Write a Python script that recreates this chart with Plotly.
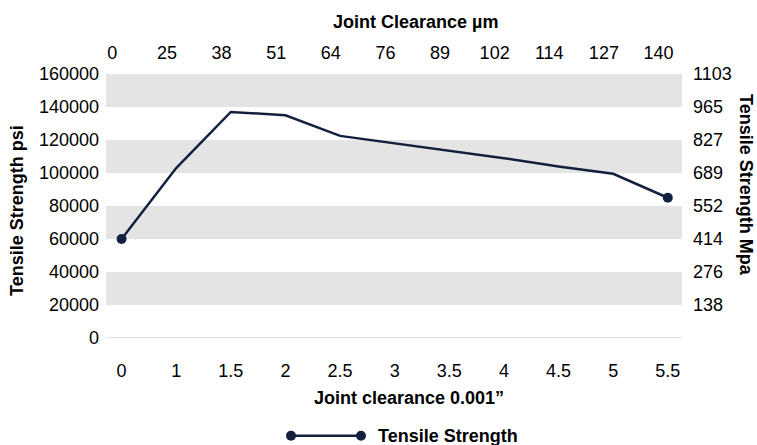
import plotly.graph_objects as go

# ---- data ----
clearance_in = ["0", "1", "1.5", "2", "2.5", "3", "3.5", "4", "4.5", "5", "5.5"]
clearance_um = ["0", "25", "38", "51", "64", "76", "89", "102", "114", "127", "140"]
tensile_psi = [60000, 103000, 137000, 135000, 122500, 118000, 113500, 109000, 104000, 99500, 85000]
psi_ticks = [0, 20000, 40000, 60000, 80000, 100000, 120000, 140000, 160000]
mpa_ticks = [20000, 40000, 60000, 80000, 100000, 120000, 140000, 160000]
mpa_labels = ["138", "276", "414", "552", "689", "827", "965", "1103"]
series_name = "Tensile Strength"

FONT = "Liberation Sans, Arial, sans-serif"
NAVY = "#13213f"
BAND = "#e4e4e4"
W, H = 757, 445
L, R, T, B = 106, 75, 74, 107
pw, ph = W - L - R, H - T - B

def px_x(px):
    return (px - L) / pw

def px_y(py):
    return (H - B - py) / ph

idx = list(range(len(clearance_in)))
end_x = [idx[0], idx[-1]]
end_y = [tensile_psi[0], tensile_psi[-1]]

fig = go.Figure()
fig.add_trace(go.Scatter(
    x=idx, y=tensile_psi, mode="lines", name=series_name,
    line=dict(color=NAVY, width=2.5), showlegend=False,
))
fig.add_trace(go.Scatter(
    x=end_x, y=end_y, mode="markers", name=series_name,
    marker=dict(color=NAVY, size=10, opacity=1, line=dict(width=0)),
    showlegend=False,
))
# invisible companion trace so secondary axes are active
fig.add_trace(go.Scatter(
    x=idx, y=tensile_psi, xaxis="x2", yaxis="y2", mode="lines",
    line=dict(width=0, color="rgba(0,0,0,0)"), showlegend=False, hoverinfo="skip",
))

xr = [-0.285, 10.26]
off = -0.17

shapes = []
for lo in range(0, len(psi_ticks) - 1):
    if lo % 2 == 1:
        shapes.append(dict(type="rect", xref="paper", yref="y", x0=0, x1=1,
                           y0=psi_ticks[lo], y1=psi_ticks[lo + 1],
                           fillcolor=BAND, line=dict(width=0), layer="below"))
shapes.append(dict(type="line", xref="paper", yref="y", x0=0, x1=1, y0=0, y1=0,
                   line=dict(color="#d9d9d9", width=1.5), layer="below"))

ly = px_y(435.7)
shapes.append(dict(type="line", xref="paper", yref="paper", x0=px_x(291), x1=px_x(361),
                   y0=ly, y1=ly, line=dict(color=NAVY, width=2.5)))
for cx in (291, 361):
    shapes.append(dict(type="circle", xref="paper", yref="paper",
                       xsizemode="pixel", ysizemode="pixel",
                       xanchor=px_x(cx), yanchor=ly, x0=-5, x1=5, y0=-5, y1=5,
                       fillcolor=NAVY, line=dict(width=0)))

annotations = [
    dict(text="<b>Joint Clearance µm</b>", xref="paper", yref="paper",
         x=px_x(415), y=px_y(22), xanchor="center", yanchor="middle",
         showarrow=False, font=dict(size=18, color="#000", family=FONT)),
    dict(text="<b>Joint clearance 0.001”</b>", xref="paper", yref="paper",
         x=px_x(409), y=px_y(398), xanchor="center", yanchor="middle",
         showarrow=False, font=dict(size=18, color="#000", family=FONT)),
    dict(text="<b>Tensile Strength psi</b>", xref="paper", yref="paper",
         x=px_x(17), y=px_y(211), xanchor="center", yanchor="middle", textangle=-90,
         showarrow=False, font=dict(size=18, color="#000", family=FONT)),
    dict(text="<b>Tensile Strength Mpa</b>", xref="paper", yref="paper",
         x=px_x(746), y=px_y(185), xanchor="center", yanchor="middle", textangle=90,
         showarrow=False, font=dict(size=18, color="#000", family=FONT)),
    dict(text="<b>" + series_name + "</b>", xref="paper", yref="paper",
         x=px_x(376), y=ly, xanchor="left", yanchor="middle",
         showarrow=False, font=dict(size=18, color="#000", family=FONT)),
]

fig.update_layout(
    width=W, height=H,
    margin=dict(l=L, r=R, t=T, b=B, pad=0),
    paper_bgcolor="white", plot_bgcolor="white",
    font=dict(family=FONT, size=18, color="#000"),
    shapes=shapes, annotations=annotations,
    xaxis=dict(range=xr, tickmode="array", tickvals=idx, ticktext=clearance_in,
               showgrid=False, zeroline=False, showline=False, ticks="",
               ticklabelstandoff=20, fixedrange=True),
    xaxis2=dict(range=xr, overlaying="x", side="top", tickmode="array",
                tickvals=[i + off for i in idx], ticktext=clearance_um,
                showgrid=False, zeroline=False, showline=False, ticks="",
                ticklabelstandoff=10, fixedrange=True),
    yaxis=dict(range=[0, 160000], tickmode="array", tickvals=psi_ticks,
               ticktext=[str(v) for v in psi_ticks],
               showgrid=False, zeroline=False, showline=False, ticks="",
               ticklabelstandoff=6, fixedrange=True),
    yaxis2=dict(range=[0, 160000], overlaying="y", side="right", tickmode="array",
                tickvals=mpa_ticks, ticktext=mpa_labels,
                showgrid=False, zeroline=False, showline=False, ticks="",
                ticklabelstandoff=10, fixedrange=True),
)

fig.write_html("out.html", config={"displayModeBar": False},
               post_script="document.body.style.margin='0';document.body.style.overflow='hidden';")
